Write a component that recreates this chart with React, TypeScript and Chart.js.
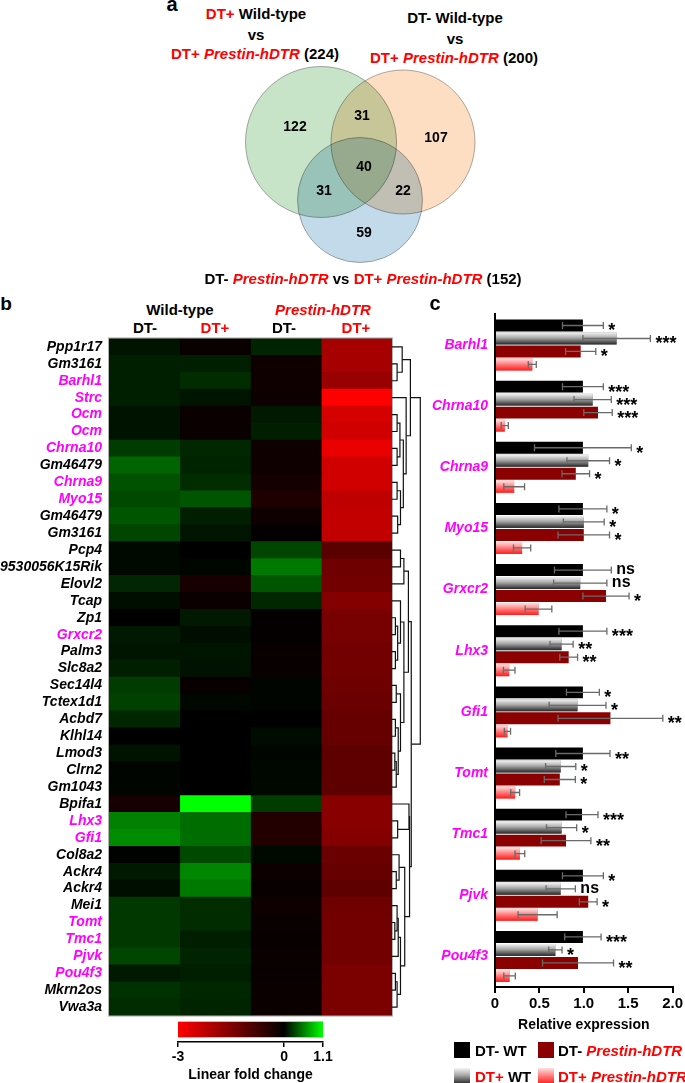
import React, { useEffect, useRef } from 'react';
import { Chart, registerables } from 'chart.js';
Chart.register(...registerables);

const FONT = "'Liberation Sans', Arial, Helvetica, sans-serif";
const RED = '#ff0000';
const MAGENTA = '#ff00ff';

// ---------------- Panel a: Venn ----------------
const vennSetNames = ['DT+ WT vs DT+ Prestin-hDTR', 'DT- WT vs DT+ Prestin-hDTR', 'DT- Prestin-hDTR vs DT+ Prestin-hDTR'];
const vennSetTotals = [224, 200, 152];
const vennCircleX = [12.1, 20.3, 16.0];
const vennCircleY = [9.2, 9.2, 15.0];
const vennCircleR = [75.5, 72, 62.5];
const vennColors = ['rgb(200,228,200)', 'rgb(253,222,195)', 'rgb(195,218,235)'];
const vennCounts = [122, 31, 107, 40, 31, 22, 59];
const vennCountX = [9.5, 16.2, 23.6, 16.4, 12.4, 20.3, 16.4];
const vennCountY = [7.7, 6.6, 8.8, 11.7, 14.1, 14.1, 18.3];

// ---------------- Panel b: heatmap ----------------
const heatGenes = ['Ppp1r17', 'Gm3161', 'Barhl1', 'Strc', 'Ocm', 'Ocm', 'Chrna10', 'Gm46479', 'Chrna9', 'Myo15', 'Gm46479', 'Gm3161', 'Pcp4', '9530056K15Rik', 'Elovl2', 'Tcap', 'Zp1', 'Grxcr2', 'Palm3', 'Slc8a2', 'Sec14l4', 'Tctex1d1', 'Acbd7', 'Klhl14', 'Lmod3', 'Clrn2', 'Gm1043', 'Bpifa1', 'Lhx3', 'Gfi1', 'Col8a2', 'Ackr4', 'Ackr4', 'Mei1', 'Tomt', 'Tmc1', 'Pjvk', 'Pou4f3', 'Mkrn2os', 'Vwa3a'];
const hairCellGenes = ['Barhl1', 'Strc', 'Ocm', 'Chrna10', 'Chrna9', 'Myo15', 'Grxcr2', 'Lhx3', 'Gfi1', 'Tomt', 'Tmc1', 'Pjvk', 'Pou4f3'];
const heatColumnNames = ['WT DT-', 'WT DT+', 'Prestin-hDTR DT-', 'Prestin-hDTR DT+'];
const wtDTminus = [0.09, 0.13, 0.13, 0.13, 0.08, 0.08, 0.26, 0.43, 0.35, 0.32, 0.37, 0.3, 0.04, 0.04, 0.17, 0.06, 0, 0.11, 0.09, 0.13, 0.26, 0.28, 0.17, 0, 0.08, 0.02, 0.02, -0.3, 0.56, 0.6, 0.01, 0.11, 0.06, 0.24, 0.24, 0.24, 0.3, 0.11, 0.21, 0.19];
const wtDTplus = [-0.1, 0.13, 0.19, 0.09, -0.12, -0.12, 0.17, 0.15, 0.19, 0.37, 0.13, 0.09, 0, 0.02, -0.3, -0.12, 0.11, 0.06, 0.09, 0.08, -0.09, 0.03, 0, 0, 0, 0, 0, 1.1, 0.47, 0.47, 0.32, 0.58, 0.52, 0.19, 0.19, 0.13, 0.15, 0.13, 0.17, 0.15];
const ptDTminus = [0.15, -0.18, -0.18, -0.14, 0.11, 0.13, -0.18, -0.18, -0.23, -0.35, -0.18, -0.06, 0.3, 0.52, 0.37, 0.17, -0.06, -0.06, -0.09, -0.09, 0.02, 0.02, 0, 0.05, 0.02, 0.03, 0.04, 0.26, -0.4, -0.4, 0.04, -0.14, -0.09, -0.18, -0.12, -0.09, -0.12, -0.09, -0.12, -0.12];
const ptDTplus = [-1.95, -1.95, -1.8, -3, -2.5, -2.45, -2.75, -2.45, -2.45, -2.25, -2.3, -2.3, -1.05, -1.3, -1.35, -1.55, -1.4, -1.4, -1.35, -1.35, -1.3, -1.25, -1.2, -1.2, -1.1, -1.1, -1.1, -1.6, -1.6, -1.55, -1.25, -1.2, -1.1, -1.3, -1.35, -1.35, -1.35, -1.45, -1.45, -1.45];
// dendrogram merges: [childA, childB, height]; index < 40 = gene row, >= 40 = earlier merge (index - 40)
const dendroMerges = [
  [1, 2, 0.18], [0, 40, 0.36], [4, 5, 0.18], [6, 7, 0.18], [8, 9, 0.18], [10, 11, 0.2],
  [42, 43, 0.28], [44, 45, 0.3], [46, 47, 0.4], [3, 48, 0.5], [41, 49, 0.65],
  [12, 13, 0.3], [51, 14, 0.42], [16, 17, 0.12], [18, 19, 0.12], [53, 54, 0.2], [15, 55, 0.3],
  [20, 21, 0.15], [22, 23, 0.12], [24, 25, 0.1], [59, 26, 0.15], [58, 60, 0.22], [57, 61, 0.3],
  [56, 62, 0.42], [52, 63, 0.58],
  [28, 29, 0.2], [27, 65, 0.6], [31, 32, 0.15], [30, 67, 0.25], [34, 35, 0.1], [33, 69, 0.18],
  [70, 36, 0.22], [37, 38, 0.12], [72, 39, 0.18], [71, 73, 0.3], [68, 74, 0.45], [66, 75, 0.62],
  [64, 76, 0.68], [50, 77, 1.0],
];
const colorbarMin = -3;
const colorbarMax = 1.1;
const colorbarTicks = [-3, 0, 1.1];

// ---------------- Panel c: bars ----------------
const barGenes = ['Barhl1', 'Chrna10', 'Chrna9', 'Myo15', 'Grxcr2', 'Lhx3', 'Gfi1', 'Tomt', 'Tmc1', 'Pjvk', 'Pou4f3'];
const dtMinusWT = [0.99, 0.99, 0.99, 0.99, 0.99, 0.99, 0.99, 0.99, 0.98, 0.99, 0.99];
const dtMinusWTErr = [0.23, 0.23, 0.545, 0.27, 0.32, 0.27, 0.185, 0.305, 0.18, 0.23, 0.205];
const dtMinusWTSig = ['*', '***', '*', '*', 'ns', '***', '*', '**', '***', '*', '***'];
const dtPlusWT = [1.37, 1.1, 1.05, 1.0, 0.96, 0.75, 0.93, 0.74, 0.75, 0.74, 0.68];
const dtPlusWTErr = [0.38, 0.21, 0.24, 0.23, 0.3, 0.13, 0.32, 0.17, 0.17, 0.165, 0.075];
const dtPlusWTSig = ['***', '***', '*', '*', 'ns', '**', '*', '*', '*', 'ns', '*'];
const dtMinusPrestin = [0.965, 1.16, 0.91, 1.0, 1.25, 0.83, 1.3, 0.73, 0.8, 1.05, 0.935];
const dtMinusPrestinErr = [0.17, 0.16, 0.155, 0.29, 0.26, 0.1, 0.59, 0.175, 0.28, 0.1, 0.4];
const dtMinusPrestinSig = ['*', '***', '*', '*', '*', '**', '**', '*', '**', '*', '**'];
const dtPlusPrestin = [0.42, 0.11, 0.216, 0.305, 0.49, 0.16, 0.14, 0.227, 0.28, 0.48, 0.164];
const dtPlusPrestinErr = [0.045, 0.04, 0.117, 0.097, 0.15, 0.065, 0.035, 0.05, 0.055, 0.22, 0.065];
const dtPlusPrestinSig = ['', '', '', '', '', '', '', '', '', '', ''];
const barTicks = [0, 0.5, 1.0, 1.5, 2.0];

function foldColor(v: number) {
  if (v < 0) return `rgb(${Math.round(255 * Math.min(1, -v / 3))},0,0)`;
  return `rgb(0,${Math.round(255 * Math.min(1, v / 1.1))},0)`;
}

function ChartBox({ left, top, width, height, make }: any) {
  const ref = useRef<HTMLCanvasElement>(null);
  useEffect(() => {
    let chart: any = null;
    try {
      chart = new Chart(ref.current as HTMLCanvasElement, make());
    } catch (e) {
      console.error(e);
    }
    return () => { if (chart) chart.destroy(); };
  }, []);
  return (
    <div style={{ position: 'absolute', left, top, width, height }}>
      <canvas ref={ref} width={width} height={height} style={{ display: 'block' }} />
    </div>
  );
}

function Txt({ x, y, size = 15, color = '#000', italic = false, left = false, children }: any) {
  return (
    <div style={{
      position: 'absolute', left: x, top: y,
      transform: left ? 'translate(0,-50%)' : 'translate(-50%,-50%)',
      fontFamily: FONT, fontWeight: 'bold', fontSize: size, lineHeight: `${size}px`,
      whiteSpace: 'nowrap', color, fontStyle: italic ? 'italic' : 'normal',
    }}>{children}</div>
  );
}
const R = ({ children, i }: any) => <span style={{ color: RED, fontStyle: i ? 'italic' : 'normal' }}>{children}</span>;
const I = ({ children }: any) => <span style={{ fontStyle: 'italic' }}>{children}</span>;

const baseOpts = {
  responsive: false, animation: false as const, events: [] as any[],
};

function makeVenn() {
  const multiply = {
    id: 'multiply',
    beforeDatasetsDraw(chart: any) { chart.ctx.save(); chart.ctx.globalCompositeOperation = 'multiply'; },
    afterDatasetsDraw(chart: any) { chart.ctx.restore(); },
  };
  const labels = {
    id: 'vennLabels',
    afterDatasetsDraw(chart: any) {
      const { ctx, scales: { x, y } } = chart;
      ctx.save();
      ctx.font = `bold 14px ${FONT}`;
      ctx.fillStyle = '#000';
      ctx.textAlign = 'center';
      ctx.textBaseline = 'middle';
      vennCounts.forEach((c, i) => ctx.fillText(String(c), x.getPixelForValue(vennCountX[i]), y.getPixelForValue(vennCountY[i]) + 0.5));
      ctx.restore();
    },
  };
  return {
    type: 'bubble',
    data: {
      datasets: vennSetNames.map((n, i) => ({
        label: `${n} (${vennSetTotals[i]})`,
        data: [{ x: vennCircleX[i], y: vennCircleY[i], r: vennCircleR[i] }],
        backgroundColor: vennColors[i],
        borderColor: 'rgba(120,120,120,0.6)',
        borderWidth: 1,
        clip: false,
      })),
    },
    options: {
      ...baseOpts,
      layout: { padding: 0, autoPadding: false },
      plugins: { legend: { display: false }, tooltip: { enabled: false } },
      scales: { x: { display: false, min: 0, max: 32 }, y: { display: false, min: 0, max: 23, reverse: true } },
    },
    plugins: [multiply, labels],
  } as any;
}

function makeHeat() {
  const cols = [wtDTminus, wtDTplus, ptDTminus, ptDTplus];
  const DENDRO_SPAN = 0.4;
  const under = {
    id: 'under',
    beforeDatasetsDraw(chart: any) {
      const { ctx, chartArea: a } = chart;
      ctx.save(); ctx.fillStyle = '#000'; ctx.fillRect(a.left, a.top, a.right - a.left, a.bottom - a.top); ctx.restore();
    },
  };
  const dendro = {
    id: 'dendro',
    afterDatasetsDraw(chart: any) {
      const { ctx, chartArea: a, scales: { x, y } } = chart;
      ctx.save();
      ctx.strokeStyle = 'rgba(170,170,170,0.9)';
      ctx.lineWidth = 1;
      ctx.strokeRect(a.left - 0.5, a.top - 0.5, a.right - a.left + 1, a.bottom - a.top + 1);
      const nodes: any[] = heatGenes.map((_, i) => ({ x: x.getPixelForValue(4), y: y.getPixelForValue(i) }));
      ctx.strokeStyle = '#111';
      ctx.lineWidth = 1.2;
      dendroMerges.forEach(([p, q, h]) => {
        const na = nodes[p], nb = nodes[q];
        const xm = x.getPixelForValue(4 + h * DENDRO_SPAN);
        ctx.beginPath();
        ctx.moveTo(na.x, na.y); ctx.lineTo(xm, na.y); ctx.lineTo(xm, nb.y); ctx.lineTo(nb.x, nb.y);
        ctx.stroke();
        nodes.push({ x: xm, y: (na.y + nb.y) / 2 });
      });
      ctx.restore();
    },
  };
  return {
    type: 'bar',
    data: {
      labels: heatGenes,
      datasets: cols.map((col, k) => ({
        label: heatColumnNames[k],
        data: heatGenes.map(() => 1),
        backgroundColor: col.map(foldColor),
        borderWidth: 0,
        barPercentage: 1,
        categoryPercentage: 1,
        stack: 'cells',
      })),
    },
    options: {
      ...baseOpts,
      indexAxis: 'y',
      layout: { padding: { top: 0, right: 38, bottom: 0, left: 0 }, autoPadding: false },
      plugins: { legend: { display: false }, tooltip: { enabled: false } },
      scales: {
        x: { stacked: true, min: 0, max: 4, display: false },
        y: {
          stacked: true,
          grid: { display: false, drawTicks: false },
          border: { display: false },
          ticks: {
            autoSkip: false, padding: 7,
            font: { family: FONT, size: 14, weight: 'bold', style: 'italic' },
            color: (c: any) => (hairCellGenes.includes(heatGenes[c.index]) ? MAGENTA : '#000'),
          },
          afterFit: (s: any) => { s.width = 109; },
        },
      },
    },
    plugins: [under, dendro],
  } as any;
}

function makeColorbar() {
  const gradPlugin = {
    id: 'cbGrad',
    afterDatasetsDraw(chart: any) {
      const { ctx, scales: { x } } = chart;
      const el: any = chart.getDatasetMeta(0).data[0];
      if (!el) return;
      const { y, height } = el.getProps(['y', 'height'], true);
      const x0 = x.getPixelForValue(colorbarMin), x1 = x.getPixelForValue(colorbarMax);
      if (!isFinite(x0) || !isFinite(x1)) return;
      const g = ctx.createLinearGradient(x0, 0, x1, 0);
      g.addColorStop(0, foldColor(colorbarMin));
      g.addColorStop((0 - colorbarMin) / (colorbarMax - colorbarMin), foldColor(0));
      g.addColorStop(1, foldColor(colorbarMax));
      ctx.save();
      ctx.fillStyle = g;
      ctx.fillRect(x0, y - height / 2, x1 - x0, height);
      ctx.restore();
    },
  };
  return {
    type: 'bar',
    data: {
      labels: ['Linear fold change'],
      datasets: [{
        data: [[colorbarMin, colorbarMax]],
        barThickness: 15,
        borderWidth: 0,
        backgroundColor: '#000',
      }],
    },
    options: {
      ...baseOpts,
      indexAxis: 'y',
      layout: { padding: { top: 7, left: 18, right: 22, bottom: 0 }, autoPadding: false },
      plugins: { legend: { display: false }, tooltip: { enabled: false } },
      scales: {
        x: {
          min: colorbarMin, max: colorbarMax,
          afterBuildTicks: (s: any) => { s.ticks = colorbarTicks.map((v) => ({ value: v })); },
          afterFit: (s: any) => { s.height = 42; },
          ticks: { font: { family: FONT, size: 14, weight: 'bold' }, color: '#000', padding: 2, callback: (v: any) => String(v) },
          grid: { display: true, drawOnChartArea: false, tickLength: 5, color: '#000', lineWidth: 1.5 },
          border: { display: true, color: '#000', width: 1.5 },
          title: { display: true, text: 'Linear fold change', color: '#000', font: { family: FONT, size: 14, weight: 'bold' }, padding: { top: 2, bottom: 0 } },
        },
        y: { display: false },
      },
    },
    plugins: [gradPlugin],
  } as any;
}

function makeBars() {
  const values = [dtMinusWT, dtPlusWT, dtMinusPrestin, dtPlusPrestin];
  const errs = [dtMinusWTErr, dtPlusWTErr, dtMinusPrestinErr, dtPlusPrestinErr];
  const sigs = [dtMinusWTSig, dtPlusWTSig, dtMinusPrestinSig, dtPlusPrestinSig];
  const gradients: any = {
    1: [[0, '#f4f4f4'], [0.45, '#a8a8a8'], [1, '#262626']],
    3: [[0, '#ffe0e0'], [0.5, '#ff7a7a'], [1, '#ff1c1c']],
  };
  const grad = {
    id: 'grad',
    afterDatasetsDraw(chart: any) {
      const ctx = chart.ctx;
      Object.keys(gradients).forEach((k) => {
        const di = Number(k);
        chart.getDatasetMeta(di).data.forEach((el: any) => {
          const { x, y, base, height } = el.getProps(['x', 'y', 'base', 'height'], true);
          if (![x, y, base, height].every((v) => isFinite(v))) return;
          const top = y - height / 2;
          const g = ctx.createLinearGradient(0, top, 0, top + height);
          gradients[k].forEach(([o, c]: any) => g.addColorStop(o, c));
          ctx.fillStyle = g;
          ctx.fillRect(Math.min(base, x), top, Math.abs(x - base), height);
        });
      });
    },
  };
  const errPlugin = {
    id: 'errs',
    afterDatasetsDraw(chart: any) {
      const { ctx, scales: { x } } = chart;
      ctx.save();
      values.forEach((vals, di) => {
        chart.getDatasetMeta(di).data.forEach((el: any, j: number) => {
          const y = el.y;
          const xl = x.getPixelForValue(vals[j] - errs[di][j]);
          const xr = x.getPixelForValue(vals[j] + errs[di][j]);
          ctx.strokeStyle = '#6a6a6a';
          ctx.lineWidth = 1.3;
          ctx.beginPath();
          ctx.moveTo(xl, y); ctx.lineTo(xr, y);
          ctx.moveTo(xl, y - 3.5); ctx.lineTo(xl, y + 3.5);
          ctx.moveTo(xr, y - 3.5); ctx.lineTo(xr, y + 3.5);
          ctx.stroke();
          const s = sigs[di][j];
          if (s) {
            ctx.fillStyle = '#000';
            ctx.textAlign = 'left';
            ctx.textBaseline = 'alphabetic';
            if (s === 'ns') {
              ctx.font = `bold 16px ${FONT}`;
              ctx.fillText(s, xr + 5, y + 4);
            } else {
              ctx.font = `bold 18px ${FONT}`;
              ctx.fillText(s, xr + 5, y + 11);
            }
          }
        });
      });
      ctx.restore();
    },
  };
  const labels = ['DT- WT', 'DT+ WT', 'DT- Prestin-hDTR', 'DT+ Prestin-hDTR'];
  const fills = ['#000000', '#8a8a8a', '#8b0000', '#ff6060'];
  return {
    type: 'bar',
    data: {
      labels: barGenes,
      datasets: values.map((v, i) => ({
        label: labels[i], data: v, backgroundColor: fills[i], borderWidth: 0,
        barPercentage: 0.92, categoryPercentage: 0.85,
      })),
    },
    options: {
      ...baseOpts,
      indexAxis: 'y',
      layout: { padding: { top: 14, right: 11, bottom: 0, left: 0 } },
      plugins: { legend: { display: false }, tooltip: { enabled: false } },
      scales: {
        x: {
          min: 0, max: 2,
          afterBuildTicks: (s: any) => { s.ticks = barTicks.map((v) => ({ value: v })); },
          ticks: { font: { family: FONT, size: 15, weight: 'bold' }, color: '#000', padding: 2, callback: (v: any) => (v === 0 ? '0' : Number(v).toFixed(1)) },
          grid: { display: true, drawOnChartArea: false, tickLength: 6, color: '#000', lineWidth: 2 },
          border: { display: true, color: '#000', width: 2 },
          title: { display: true, text: 'Relative expression', color: '#000', font: { family: FONT, size: 14, weight: 'bold' }, padding: { top: 2.2, bottom: 0 } },
        },
        y: {
          grid: { display: false, drawTicks: false },
          border: { display: true, color: '#000', width: 2 },
          ticks: { padding: 7, color: MAGENTA, font: { family: FONT, size: 14, weight: 'bold', style: 'italic' } },
          afterFit: (s: any) => { s.width = 75; },
        },
      },
    },
    plugins: [grad, errPlugin],
  } as any;
}

function Swatch({ x, y, bg }: any) {
  return <div style={{ position: 'absolute', left: x, top: y, width: 16, height: 16, background: bg }} />;
}

export default function App() {
  useEffect(() => { document.body.style.margin = '0'; }, []);
  return (
    <div style={{ position: 'absolute', left: 0, top: 0, width: 685, height: 1083, overflow: 'hidden', background: '#fff' }}>
      {/* Panel a */}
      <Txt x={172} y={4} size={20}>a</Txt>
      <Txt x={256} y={13}><R>DT+</R> Wild-type</Txt>
      <Txt x={256} y={34}>vs</Txt>
      <Txt x={255} y={53}><R>DT+ <I>Prestin-hDTR</I></R> (224)</Txt>
      <Txt x={455} y={17}>DT- Wild-type</Txt>
      <Txt x={455} y={38}>vs</Txt>
      <Txt x={454} y={57}><R>DT+ <I>Prestin-hDTR</I></R> (200)</Txt>
      <ChartBox left={200} top={50} width={320} height={230} make={makeVenn} />
      <Txt x={363} y={278}>DT- <R i>Prestin-hDTR</R> vs <R>DT+ <I>Prestin-hDTR</I></R> (152)</Txt>

      {/* Panel b */}
      <Txt x={6} y={303} size={19}>b</Txt>
      <Txt x={180} y={309}>Wild-type</Txt>
      <Txt x={323} y={309} color={RED} italic>Prestin-hDTR</Txt>
      <Txt x={145} y={327}>DT-</Txt>
      <Txt x={215} y={327} color={RED}>DT+</Txt>
      <Txt x={284} y={327}>DT-</Txt>
      <Txt x={356} y={327} color={RED}>DT+</Txt>
      <ChartBox left={0} top={323} width={430} height={708} make={makeHeat} />
      <ChartBox left={160} top={1010} width={185} height={74} make={makeColorbar} />

      {/* Panel c */}
      <Txt x={435} y={303} size={20}>c</Txt>
      <ChartBox left={420} top={299} width={265} height={735} make={makeBars} />
      <Swatch x={454} y={1042} bg="#000" />
      <Txt x={475} y={1050} left>DT- WT</Txt>
      <Swatch x={538} y={1042} bg="#8b0000" />
      <Txt x={558} y={1050} left>DT- <R i>Prestin-hDTR</R></Txt>
      <Swatch x={454} y={1068} bg="linear-gradient(#f4f4f4, #a8a8a8 45%, #262626)" />
      <Txt x={475} y={1076} left><R>DT+</R> WT</Txt>
      <Swatch x={538} y={1068} bg="linear-gradient(#ffe0e0, #ff7a7a 50%, #ff1c1c)" />
      <Txt x={558} y={1076} left color={RED}>DT+ <I>Prestin-hDTR</I></Txt>
    </div>
  );
}
